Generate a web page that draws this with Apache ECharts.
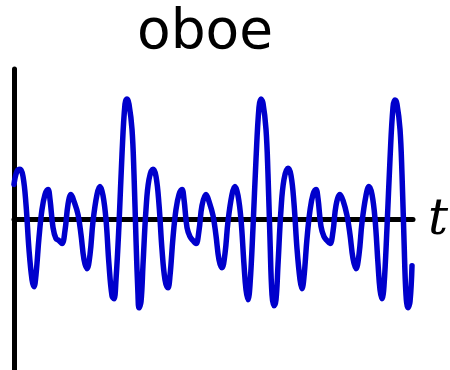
<!DOCTYPE html>
<html>
<head>
<meta charset="utf-8">
<script src="https://cdn.jsdelivr.net/npm/echarts@6/dist/echarts.min.js"></script>
<style>
  html, body { margin: 0; padding: 0; background: #fff; }
  #chart { width: 450px; height: 370px; }
</style>
</head>
<body>
<div id="chart"></div>
<script>
// Oboe pressure waveform: three periods, time in samples, amplitude in arbitrary units
const titleText = 'oboe';
const axisLabelText = 't';

const times = [
  0, 3, 6, 9, 12, 15, 18, 20, 22, 25, 28, 31, 34, 36, 39, 42, 45, 48, 51, 54, 57, 60, 64, 67, 70, 73, 76, 79,
  83, 86, 89, 92, 95, 98, 100, 102, 105, 108, 111, 113, 115, 118, 120, 122, 124, 125, 127, 129, 132, 135, 139,
  142, 145, 148, 151, 154, 156, 159, 162, 165, 168, 170, 173, 176, 179, 182, 185, 188, 192, 195, 199, 202, 205,
  208, 211, 214, 218, 221, 224, 227, 230, 232, 234, 236, 239, 242, 245, 247, 249, 252, 254, 256, 258, 260, 262,
  264, 267, 270, 274,
  277, 280, 283, 286, 288, 290, 293, 296, 299, 302, 304, 307, 310, 313, 316, 319, 322, 326, 329, 333, 336, 339,
  342, 345, 348, 352, 355, 358, 361, 364, 366, 368, 370, 373, 376, 379, 381, 383, 386, 388, 390, 392, 394, 396,
  398
];

const amplitude = [
  0.35, 0.48, 0.50, 0.43, 0.15, -0.30, -0.60, -0.67, -0.55, -0.18, 0.10, 0.25, 0.30, 0.20, -0.08, -0.19, -0.21,
  -0.24, -0.11, 0.15, 0.25, 0.18, 0.05, -0.15, -0.40, -0.49, -0.35, -0.02,
  0.25, 0.33, 0.24, 0.00, -0.45, -0.76, -0.79, -0.60, -0.05, 0.65, 1.15, 1.20, 1.15, 0.90, 0.45, -0.20, -0.75,
  -0.88, -0.82, -0.45, 0.10, 0.40, 0.50,
  0.43, 0.15, -0.30, -0.60, -0.68, -0.56, -0.18, 0.10, 0.25, 0.30, 0.20, -0.08, -0.17, -0.21, -0.24, -0.11, 0.14,
  0.25, 0.18, 0.04, -0.16, -0.40,
  -0.48, -0.34, -0.02, 0.25, 0.33, 0.24, 0.00, -0.45, -0.70, -0.80, -0.65, -0.08, 0.60, 1.12, 1.20, 1.16, 0.90,
  0.45, -0.20, -0.75, -0.86, -0.80,
  -0.45, 0.10, 0.40, 0.51,
  0.44, 0.16, -0.29, -0.60, -0.69, -0.57, -0.19, 0.09, 0.25, 0.30, 0.21, -0.07, -0.17, -0.21, -0.24, -0.12, 0.14,
  0.25, 0.19, 0.04, -0.15, -0.39,
  -0.49, -0.35, -0.03, 0.24, 0.33, 0.25, 0.01, -0.44, -0.70, -0.79, -0.66, -0.08, 0.60, 1.12, 1.19, 1.15, 0.90,
  0.45, -0.20, -0.75, -0.88, -0.82,
  -0.46
];

const points = times.map((t, i) => [t, amplitude[i]]);

const chart = echarts.init(document.getElementById('chart'), null, { renderer: 'canvas' });
chart.setOption({
  animation: false,
  backgroundColor: '#ffffff',
  grid: { left: 14, right: 37, top: 69, bottom: 0, containLabel: false },
  xAxis: {
    type: 'value',
    min: 0,
    max: 399,
    axisLine: { show: true, onZero: true, lineStyle: { color: '#000', width: 5, cap: 'round' } },
    axisTick: { show: false },
    axisLabel: { show: false },
    splitLine: { show: false }
  },
  yAxis: {
    type: 'value',
    min: -1.5,
    max: 1.5,
    axisLine: { show: true, onZero: false, lineStyle: { color: '#000', width: 5 } },
    axisTick: { show: false },
    axisLabel: { show: false },
    splitLine: { show: false }
  },
  series: [{
    type: 'line',
    data: points,
    smooth: 0.4,
    showSymbol: false,
    lineStyle: { color: '#0000cc', width: 5.5, cap: 'round', join: 'round' },
    z: 1
  }],
  graphic: [
    {
      type: 'text',
      x: 205,
      y: 6,
      style: {
        text: titleText,
        font: '55px "DejaVu Sans"',
        fill: '#000',
        align: 'center',
        verticalAlign: 'top'
      }
    },
    {
      type: 'text',
      x: 438,
      y: 221,
      style: {
        text: axisLabelText,
        font: 'italic 50px "DejaVu Serif"',
        fill: '#000',
        align: 'center',
        verticalAlign: 'middle'
      }
    }
  ]
});
</script>
</body>
</html>
